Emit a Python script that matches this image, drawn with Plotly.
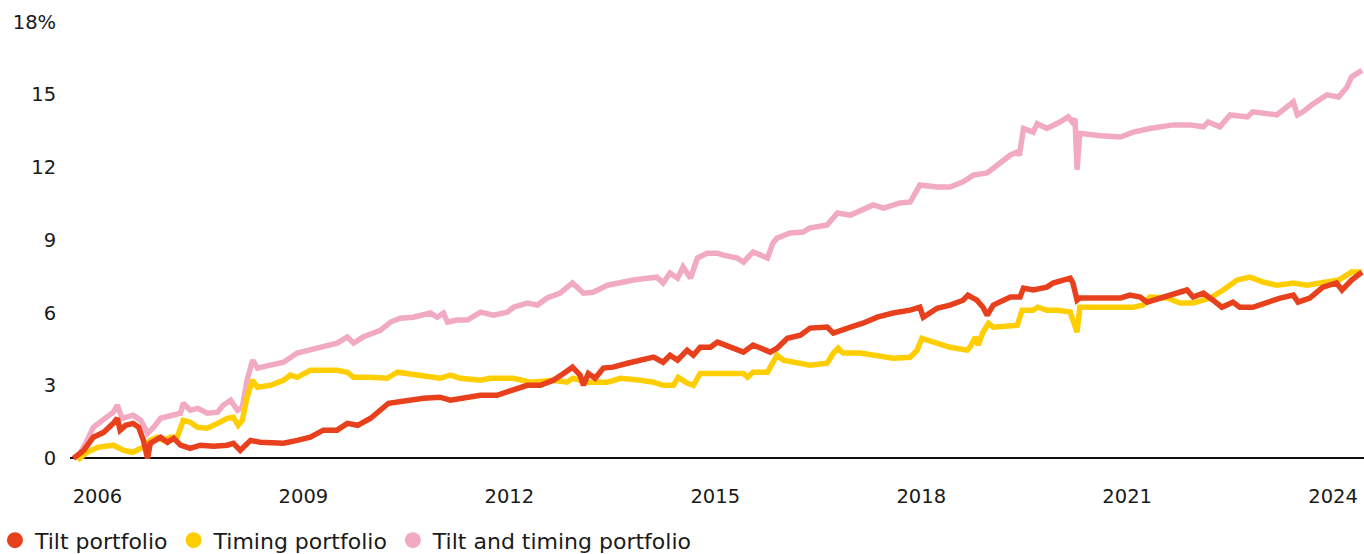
import plotly.graph_objects as go

# ---------------- data ----------------
tilt_x = [2005.65, 2005.80, 2005.94, 2006.09, 2006.23, 2006.29, 2006.33, 2006.41, 2006.52, 2006.60,
          2006.67, 2006.73, 2006.77, 2006.92, 2007.02, 2007.11, 2007.21, 2007.35, 2007.50, 2007.69,
          2007.89, 2007.98, 2008.08, 2008.23, 2008.37, 2008.52, 2008.71, 2008.91, 2009.10, 2009.29,
          2009.49, 2009.64, 2009.79, 2009.98, 2010.16, 2010.24, 2010.75, 2010.99, 2011.14, 2011.33,
          2011.58, 2011.82, 2012.06, 2012.26, 2012.45, 2012.64, 2012.79, 2012.92, 2013.03, 2013.08,
          2013.15, 2013.25, 2013.37, 2013.51, 2013.72, 2013.91, 2014.10, 2014.24, 2014.34, 2014.45,
          2014.59, 2014.68, 2014.78, 2014.93, 2015.03, 2015.07, 2015.22, 2015.41, 2015.55, 2015.70,
          2015.80, 2015.90, 2016.05, 2016.24, 2016.38, 2016.63, 2016.72, 2016.97, 2017.15, 2017.36,
          2017.59, 2017.84, 2017.98, 2018.03, 2018.23, 2018.42, 2018.61, 2018.68, 2018.81, 2018.90,
          2018.96, 2019.05, 2019.30, 2019.44, 2019.49, 2019.63, 2019.83, 2019.92, 2020.17, 2020.21,
          2020.27, 2020.31, 2020.61, 2020.90, 2021.04, 2021.19, 2021.29, 2021.48, 2021.67, 2021.87,
          2021.96, 2022.11, 2022.25, 2022.38, 2022.54, 2022.64, 2022.83, 2023.04, 2023.23, 2023.42,
          2023.49, 2023.66, 2023.85, 2024.05, 2024.13, 2024.27, 2024.42]
tilt_y = [0.00, 0.33, 0.87, 1.07, 1.44, 1.65, 1.16, 1.36, 1.44, 1.28,
          0.74, 0.00, 0.62, 0.87, 0.66, 0.83, 0.54, 0.41, 0.54, 0.50,
          0.54, 0.62, 0.33, 0.74, 0.66, 0.66, 0.62, 0.74, 0.87, 1.16,
          1.16, 1.44, 1.36, 1.65, 2.10, 2.27, 2.48, 2.52, 2.40, 2.48,
          2.60, 2.60, 2.80, 3.01, 3.01, 3.22, 3.50, 3.76, 3.43, 3.01,
          3.50, 3.30, 3.72, 3.76, 3.92, 4.05, 4.17, 3.96, 4.25, 4.05,
          4.46, 4.25, 4.58, 4.58, 4.79, 4.75, 4.58, 4.38, 4.67, 4.46,
          4.38, 4.54, 4.95, 5.08, 5.37, 5.41, 5.16, 5.41, 5.57, 5.82,
          5.99, 6.11, 6.23, 5.82, 6.19, 6.32, 6.52, 6.73, 6.52, 6.23,
          5.90, 6.32, 6.65, 6.65, 7.02, 6.94, 7.06, 7.23, 7.43, 7.23,
          6.52, 6.61, 6.61, 6.61, 6.73, 6.65, 6.44, 6.61, 6.81, 6.94,
          6.65, 6.81, 6.52, 6.23, 6.44, 6.23, 6.23, 6.44, 6.61, 6.73,
          6.44, 6.61, 7.06, 7.23, 6.94, 7.35, 7.68]

timing_x = [2005.71, 2005.85, 2006.00, 2006.23, 2006.38, 2006.51, 2006.66, 2006.77, 2006.87, 2006.96,
            2007.06, 2007.16, 2007.25, 2007.35, 2007.46, 2007.60, 2007.75, 2007.89, 2007.98, 2008.05,
            2008.11, 2008.18, 2008.26, 2008.33, 2008.52, 2008.71, 2008.81, 2008.91, 2009.10, 2009.29,
            2009.49, 2009.64, 2009.73, 2009.98, 2010.22, 2010.37, 2010.51, 2010.70, 2010.85, 2010.99,
            2011.14, 2011.29, 2011.58, 2011.72, 2012.06, 2012.31, 2012.64, 2012.84, 2012.93, 2013.14,
            2013.43, 2013.62, 2013.91, 2014.10, 2014.24, 2014.39, 2014.46, 2014.59, 2014.68, 2014.78,
            2014.97, 2015.17, 2015.41, 2015.47, 2015.55, 2015.76, 2015.83, 2015.90, 2015.99, 2016.19,
            2016.38, 2016.63, 2016.72, 2016.79, 2016.86, 2017.11, 2017.36, 2017.59, 2017.84, 2017.94,
            2018.01, 2018.17, 2018.42, 2018.67, 2018.71, 2018.79, 2018.83, 2018.90, 2018.98, 2019.05,
            2019.30, 2019.40, 2019.47, 2019.63, 2019.70, 2019.83, 2019.98, 2020.17, 2020.27, 2020.31,
            2020.71, 2021.09, 2021.23, 2021.33, 2021.58, 2021.77, 2021.96, 2022.21, 2022.40, 2022.60,
            2022.79, 2022.98, 2023.18, 2023.42, 2023.62, 2023.85, 2024.08, 2024.27, 2024.42]
timing_y = [-0.08, 0.25, 0.45, 0.54, 0.33, 0.25, 0.45, 0.74, 0.87, 0.74,
            0.87, 0.87, 1.57, 1.49, 1.28, 1.24, 1.44, 1.65, 1.69, 1.36,
            1.57, 2.52, 3.22, 2.93, 3.01, 3.22, 3.43, 3.34, 3.63, 3.63,
            3.63, 3.55, 3.34, 3.34, 3.30, 3.55, 3.50, 3.43, 3.34, 3.30,
            3.43, 3.30, 3.22, 3.30, 3.30, 3.14, 3.22, 3.14, 3.30, 3.14,
            3.14, 3.30, 3.22, 3.14, 3.01, 3.01, 3.34, 3.10, 3.01, 3.50,
            3.50, 3.50, 3.50, 3.34, 3.55, 3.55, 3.92, 4.25, 4.05, 3.92,
            3.84, 3.92, 4.34, 4.54, 4.34, 4.34, 4.25, 4.13, 4.17, 4.46,
            4.95, 4.79, 4.58, 4.46, 4.58, 5.00, 4.67, 5.20, 5.57, 5.41,
            5.49, 5.49, 6.11, 6.11, 6.23, 6.11, 6.11, 6.03, 5.20, 6.23,
            6.23, 6.23, 6.32, 6.65, 6.61, 6.40, 6.40, 6.61, 6.94, 7.35,
            7.47, 7.27, 7.14, 7.23, 7.14, 7.27, 7.35, 7.68, 7.68]

both_x = [2005.71, 2005.83, 2005.94, 2006.09, 2006.23, 2006.29, 2006.36, 2006.52, 2006.63, 2006.73,
          2006.82, 2006.92, 2007.06, 2007.21, 2007.25, 2007.35, 2007.46, 2007.60, 2007.75, 2007.83,
          2007.94, 2008.04, 2008.11, 2008.18, 2008.26, 2008.33, 2008.52, 2008.71, 2008.91, 2009.10,
          2009.29, 2009.49, 2009.64, 2009.73, 2009.87, 2010.12, 2010.27, 2010.41, 2010.60, 2010.85,
          2010.95, 2011.04, 2011.10, 2011.24, 2011.39, 2011.58, 2011.77, 2011.97, 2012.06, 2012.26,
          2012.41, 2012.55, 2012.74, 2012.92, 2013.08, 2013.22, 2013.43, 2013.62, 2013.81, 2014.01,
          2014.15, 2014.24, 2014.34, 2014.45, 2014.53, 2014.64, 2014.74, 2014.88, 2015.03, 2015.12,
          2015.32, 2015.41, 2015.55, 2015.76, 2015.84, 2015.90, 2016.09, 2016.28, 2016.38, 2016.63,
          2016.78, 2016.97, 2017.15, 2017.30, 2017.45, 2017.69, 2017.84, 2017.98, 2018.23, 2018.42,
          2018.61, 2018.76, 2018.96, 2019.11, 2019.30, 2019.40, 2019.43, 2019.49, 2019.63, 2019.69,
          2019.83, 2020.02, 2020.14, 2020.20, 2020.24, 2020.27, 2020.31, 2020.61, 2020.90, 2021.09,
          2021.33, 2021.67, 2021.91, 2022.11, 2022.18, 2022.35, 2022.50, 2022.75, 2022.83, 2023.18,
          2023.42, 2023.48, 2023.56, 2023.70, 2023.91, 2024.08, 2024.20, 2024.27, 2024.42]
both_y = [0.04, 0.62, 1.28, 1.57, 1.90, 2.19, 1.65, 1.78, 1.57, 1.03,
          1.28, 1.65, 1.78, 1.86, 2.27, 1.98, 2.06, 1.86, 1.90, 2.19,
          2.39, 1.98, 2.10, 3.22, 4.05, 3.72, 3.84, 3.96, 4.34, 4.46,
          4.58, 4.75, 5.00, 4.75, 5.00, 5.28, 5.62, 5.78, 5.82, 5.99,
          5.82, 5.99, 5.62, 5.70, 5.70, 6.03, 5.90, 6.03, 6.23, 6.40,
          6.32, 6.61, 6.81, 7.23, 6.81, 6.85, 7.14, 7.27, 7.35, 7.43,
          7.47, 7.23, 7.64, 7.43, 7.89, 7.43, 8.26, 8.46, 8.46, 8.38,
          8.26, 8.09, 8.51, 8.26, 8.88, 9.08, 9.29, 9.33, 9.50, 9.62,
          10.12, 10.03, 10.24, 10.45, 10.32, 10.53, 10.57, 11.27, 11.19, 11.19,
          11.40, 11.68, 11.77, 12.10, 12.51, 12.63, 12.50, 13.60, 13.45, 13.80,
          13.60, 13.87, 14.08, 13.87, 14.00, 11.90, 13.40, 13.30, 13.25, 13.45,
          13.60, 13.75, 13.75, 13.67, 13.87, 13.67, 14.16, 14.08, 14.29, 14.16,
          14.70, 14.16, 14.29, 14.60, 14.99, 14.90, 15.30, 15.73, 16.00]

series_names = ["Tilt portfolio", "Timing portfolio", "Tilt and timing portfolio"]
series_colors = ["#E8401C", "#FFCE00", "#F2AAC4"]

x_tick_vals = [2006, 2009, 2012, 2015, 2018, 2021, 2024]
y_tick_vals = [0, 3, 6, 9, 12, 15, 18]
y_tick_text = ["0", "3", "6", "9", "12", "15", "18%"]

# ---------------- figure ----------------
FONT = "DejaVu Sans"
TICK_SIZE = 19.5
fig = go.Figure()

data_sets = [(tilt_x, tilt_y), (timing_x, timing_y), (both_x, both_y)]
# draw pink first, then yellow, then red on top
for idx in [2, 1, 0]:
    xs, ys = data_sets[idx]
    fig.add_trace(go.Scatter(x=xs, y=ys, mode="lines", name=series_names[idx],
                             line=dict(color=series_colors[idx], width=5.5),
                             showlegend=False, hoverinfo="skip"))

# legend entries with round markers
for idx in range(3):
    fig.add_trace(go.Scatter(x=[None], y=[None], mode="markers", name=series_names[idx],
                             marker=dict(color=series_colors[idx], size=16, symbol="circle")))

fig.update_layout(
    width=1364, height=554,
    margin=dict(l=70, r=0, t=17, b=86, autoexpand=False),
    paper_bgcolor="white", plot_bgcolor="white",
    font=dict(family=FONT, size=TICK_SIZE, color="#1a1a1a"),
    showlegend=True,
    legend=dict(orientation="h", x=-0.058, xanchor="left", y=-0.114, yanchor="top",
                font=dict(family=FONT, size=22, color="#1a1a1a"),
                itemsizing="trace", tracegroupgap=0, bgcolor="rgba(0,0,0,0)"),
    xaxis=dict(range=[2005.6, 2024.45], tickmode="array", tickvals=x_tick_vals,
               ticktext=[str(v) for v in x_tick_vals],
               showgrid=False, zeroline=False, showline=False, automargin=False,
               ticks="outside", ticklen=11, tickcolor="rgba(0,0,0,0)",
               tickfont=dict(family=FONT, size=TICK_SIZE, color="#1a1a1a")),
    yaxis=dict(range=[-0.4, 18.2], tickmode="array", tickvals=y_tick_vals, ticktext=y_tick_text,
               showgrid=False, zeroline=True, zerolinecolor="#111111", zerolinewidth=2,
               showline=False, automargin=False, ticks="outside", ticklen=9,
               tickcolor="rgba(0,0,0,0)",
               tickfont=dict(family=FONT, size=TICK_SIZE, color="#1a1a1a")),
)

fig.write_html("out.html", config={"displayModeBar": False},
               post_script="document.body.style.margin='0';")
